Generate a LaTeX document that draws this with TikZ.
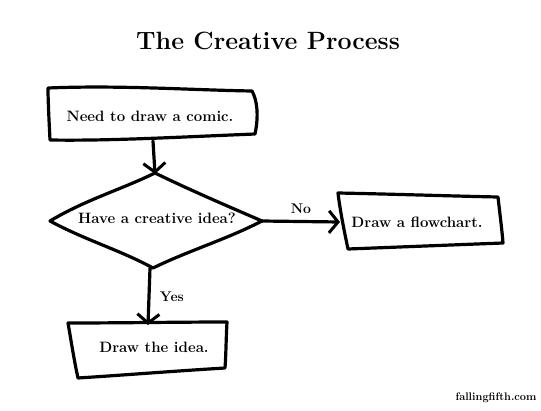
\documentclass[tikz,border=0pt]{standalone}
\usetikzlibrary{arrows.meta}
\begin{document}
\begin{tikzpicture}[x=1pt,y=-1pt,
  ink/.style={line width=3.2pt,line join=round,line cap=round},
  conn/.style={ink,-{Straight Barb[length=9pt,width=22pt,line width=3pt]}},
  txt/.style={font=\fontsize{15}{17}\selectfont\bfseries},
  lbl/.style={font=\fontsize{14}{16}\selectfont\bfseries}]
\useasboundingbox (0,0) rectangle (541,410);
% title
\node[font=\fontsize{25}{29}\selectfont\bfseries] (title) at (268,41) {The\ Creative\ Process};
% box 1
\draw[ink] (48,88) .. controls (120,85) and (190,90) .. (252,91)
  .. controls (257,100) and (259,115) .. (255,134)
  .. controls (180,137) and (110,141) .. (50,140)
  .. controls (49,120) and (48,100) .. cycle;
\node[txt] (n1) at (150,116) {Need to draw a comic.};
\coordinate (b1s) at (153,141);
% diamond
\draw[ink] (50,221) .. controls (85,200) and (120,190) .. (155,173)
  .. controls (190,190) and (225,205) .. (262,221)
  .. controls (225,240) and (190,250) .. (153,268)
  .. controls (120,250) and (85,240) .. cycle;
\node[txt] (q) at (157,218) {Have a creative idea?};
\coordinate (dT) at (155,174);
\coordinate (dR) at (262,221);
\coordinate (dB) at (150,268);
% box flowchart
\draw[ink] (338,193) .. controls (390,194) and (450,196) .. (498,197)
  .. controls (500,215) and (502,230) .. (503,243)
  .. controls (450,245) and (400,247) .. (348,249)
  .. controls (344,230) and (340,210) .. cycle;
\node[txt] (n2) at (417,222) {Draw a flowchart.};
\coordinate (fL) at (340,222);
% box draw idea
\draw[ink] (68,323) .. controls (120,323) and (180,322) .. (227,322)
  .. controls (226,340) and (226,355) .. (225,368)
  .. controls (175,371) and (125,375) .. (78,378)
  .. controls (74,360) and (71,340) .. cycle;
\node[txt] (n3) at (154,347) {Draw the idea.};
\coordinate (iT) at (148,325);
% connectors
\draw[conn] (b1s) -- (dT);
\draw[conn] (dR) -- node[lbl,above=3pt] (no) {No} (fL);
\draw[conn] (dB) -- node[lbl,right=6pt] (yes) {Yes} (iT);
% credit
\node[font=\fontsize{11}{13}\selectfont\bfseries] (credit) at (496,398) {fallingfifth.com};
\end{tikzpicture}
\end{document}
